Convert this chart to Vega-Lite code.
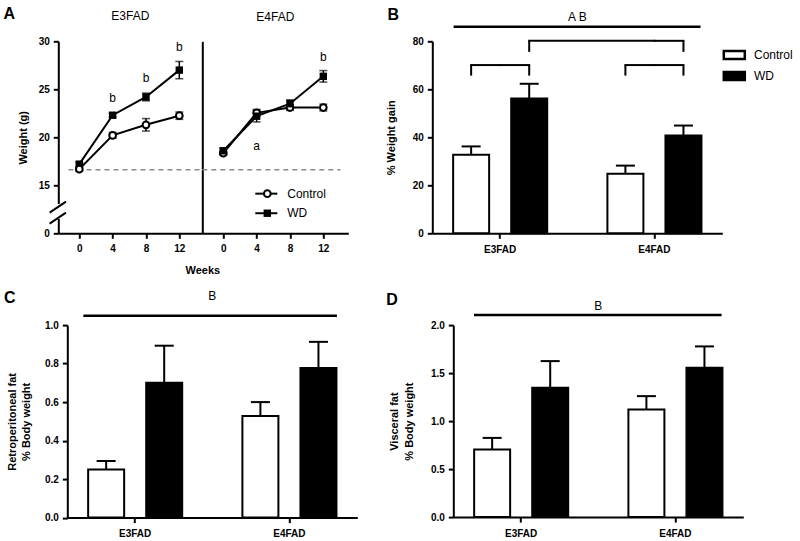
{
  "$schema": "https://vega.github.io/schema/vega-lite/v6.json",
  "background": "white",
  "padding": {"left": 3.3, "top": 5.3, "right": 0, "bottom": 0},
  "spacing": 12.8,
  "config": {
    "font": "Liberation Sans",
    "view": {"stroke": null},
    "axis": {"domainColor": "black", "domainWidth": 2, "tickColor": "black", "tickWidth": 2, "tickSize": 5, "labelFont": "Liberation Sans", "labelFontWeight": "bold", "labelFontSize": 10, "labelColor": "black", "labelPadding": 4, "titleFont": "Liberation Sans", "titleFontWeight": "bold", "titleFontSize": 11, "titleColor": "black", "grid": false},
    "title": {"font": "Liberation Sans", "fontSize": 16, "fontWeight": "bold", "color": "black", "anchor": "start", "frame": "group", "baseline": "alphabetic", "offset": 0},
    "text": {"font": "Liberation Sans", "color": "black"}
  },
  "vconcat": [
    {
      "spacing": 37,
      "hconcat": [
        {
          "bounds": "flush",
          "spacing": 0,
          "title": {"text": "A", "dx": -54.7, "dy": 15.2},
          "hconcat": [
            {
              "width": 144,
              "height": 192,
              "title": {"text": "E3FAD", "anchor": "middle", "fontSize": 12, "fontWeight": "normal", "offset": 12.8},
              "data": {"values": [
                {"week": 0, "diet": "Control", "mean": 16.68, "sem": 0.2},
                {"week": 4, "diet": "Control", "mean": 20.2, "sem": 0.3},
                {"week": 8, "diet": "Control", "mean": 21.3, "sem": 0.65},
                {"week": 12, "diet": "Control", "mean": 22.25, "sem": 0.38},
                {"week": 0, "diet": "WD", "mean": 17.2, "sem": 0.2},
                {"week": 4, "diet": "WD", "mean": 22.3, "sem": 0.2},
                {"week": 8, "diet": "WD", "mean": 24.2, "sem": 0.4},
                {"week": 12, "diet": "WD", "mean": 27.0, "sem": 0.9}
              ]},
              "layer": [
                {"mark": {"type": "line", "color": "black", "strokeWidth": 2}, "encoding": {
                  "x": {"field": "week", "type": "quantitative", "scale": {"domain": [-2.52, 14.76], "nice": false, "zero": false}, "axis": {"values": [0, 4, 8, 12], "title": "Weeks", "titleAnchor": "end", "titleAlign": "center", "labelPadding": 5.5, "titlePadding": 11}},
                  "y": {"field": "mean", "type": "quantitative", "scale": {"domain": [10, 30], "nice": false, "zero": false}, "axis": {"values": [10, 15, 20, 25, 30], "labelExpr": "datum.value == 10 ? '0' : datum.label", "title": "Weight (g)", "titlePadding": 10}},
                  "detail": {"field": "diet"}}},
                {"data": {"values": [{}]}, "mark": {"type": "rule", "strokeDash": [5, 4], "color": "#8a8a8a", "strokeWidth": 1.3}, "encoding": {"x": {"datum": -1.3}, "x2": {"datum": 14.76}, "y": {"datum": 16.62}}},
                {"data": {"values": [{}]}, "mark": {"type": "rect", "fill": "white"}, "encoding": {"x": {"datum": -2.85}, "x2": {"datum": -2.2}, "y": {"datum": 11.5}, "y2": {"datum": 13.05}}},
                {"data": {"values": [{}]}, "mark": {"type": "rule", "color": "black", "strokeWidth": 2}, "encoding": {"x": {"datum": -3.56}, "x2": {"datum": -1.6}, "y": {"datum": 12.15}, "y2": {"datum": 13.3}}},
                {"data": {"values": [{}]}, "mark": {"type": "rule", "color": "black", "strokeWidth": 2}, "encoding": {"x": {"datum": -3.56}, "x2": {"datum": -1.6}, "y": {"datum": 11.0}, "y2": {"datum": 12.15}}},
                {"mark": {"type": "errorbar", "ticks": {"size": 8}, "thickness": 1.5, "color": "black"}, "encoding": {"x": {"field": "week", "type": "quantitative"}, "y": {"field": "mean", "type": "quantitative", "title": "Weight (g)"}, "yError": {"field": "sem"}}},
                {"transform": [{"filter": "datum.diet == 'WD'"}], "mark": {"type": "point", "shape": "square", "filled": true, "color": "black", "size": 55, "opacity": 1}, "encoding": {"x": {"field": "week", "type": "quantitative"}, "y": {"field": "mean", "type": "quantitative"}}},
                {"transform": [{"filter": "datum.diet == 'Control'"}], "mark": {"type": "point", "shape": "circle", "filled": true, "fill": "white", "stroke": "black", "strokeWidth": 2, "size": 45, "opacity": 1}, "encoding": {"x": {"field": "week", "type": "quantitative"}, "y": {"field": "mean", "type": "quantitative"}}},
                {"data": {"values": [{"week": 4, "pos": 23.63, "t": "b"}, {"week": 8, "pos": 25.72, "t": "b"}, {"week": 12, "pos": 29.0, "t": "b"}]}, "mark": {"type": "text", "fontSize": 12, "baseline": "alphabetic", "color": "black"}, "encoding": {"x": {"field": "week", "type": "quantitative"}, "y": {"field": "pos", "type": "quantitative"}, "text": {"field": "t"}}}
              ]
            },
            {
              "width": 146,
              "height": 192,
              "title": {"text": "E4FAD", "anchor": "middle", "fontSize": 12, "fontWeight": "normal", "offset": 16.8},
              "data": {"values": [
                {"week": 0, "diet": "Control", "mean": 18.35, "sem": 0.2},
                {"week": 4, "diet": "Control", "mean": 22.55, "sem": 0.35},
                {"week": 8, "diet": "Control", "mean": 23.1, "sem": 0.3},
                {"week": 12, "diet": "Control", "mean": 23.1, "sem": 0.35},
                {"week": 0, "diet": "WD", "mean": 18.6, "sem": 0.25},
                {"week": 4, "diet": "WD", "mean": 22.2, "sem": 0.6},
                {"week": 8, "diet": "WD", "mean": 23.5, "sem": 0.4},
                {"week": 12, "diet": "WD", "mean": 26.35, "sem": 0.6}
              ]},
              "layer": [
                {"mark": {"type": "line", "color": "black", "strokeWidth": 2}, "encoding": {
                  "x": {"field": "week", "type": "quantitative", "scale": {"domain": [-2.52, 15.0], "nice": false, "zero": false}, "axis": {"values": [0, 4, 8, 12], "title": null, "labelPadding": 5.5}},
                  "y": {"field": "mean", "type": "quantitative", "scale": {"domain": [10, 30], "nice": false, "zero": false}, "axis": {"labels": false, "ticks": false, "title": null}},
                  "detail": {"field": "diet"}}},
                {"data": {"values": [{}]}, "mark": {"type": "rule", "strokeDash": [5, 4], "color": "#8a8a8a", "strokeWidth": 1.3}, "encoding": {"x": {"datum": -2.52}, "x2": {"datum": 14.05}, "y": {"datum": 16.62}}},
                {"mark": {"type": "errorbar", "ticks": {"size": 8}, "thickness": 1.5, "color": "black"}, "encoding": {"x": {"field": "week", "type": "quantitative"}, "y": {"field": "mean", "type": "quantitative", "title": null}, "yError": {"field": "sem"}}},
                {"transform": [{"filter": "datum.diet == 'Control'"}], "mark": {"type": "point", "shape": "circle", "filled": true, "fill": "white", "stroke": "black", "strokeWidth": 2, "size": 45, "opacity": 1}, "encoding": {"x": {"field": "week", "type": "quantitative"}, "y": {"field": "mean", "type": "quantitative"}}},
                {"transform": [{"filter": "datum.diet == 'WD'"}], "mark": {"type": "point", "shape": "square", "filled": true, "color": "black", "size": 55, "opacity": 1}, "encoding": {"x": {"field": "week", "type": "quantitative"}, "y": {"field": "mean", "type": "quantitative"}}},
                {"data": {"values": [{"week": 4, "pos": 18.7, "t": "a"}, {"week": 12, "pos": 27.9, "t": "b"}]}, "mark": {"type": "text", "fontSize": 12, "baseline": "alphabetic", "color": "black"}, "encoding": {"x": {"field": "week", "type": "quantitative"}, "y": {"field": "pos", "type": "quantitative"}, "text": {"field": "t"}}},
                {"data": {"values": [{}]}, "mark": {"type": "rule", "color": "black", "strokeWidth": 2}, "encoding": {"x": {"datum": 3.84}, "x2": {"datum": 6.48}, "y": {"datum": 14.13}}},
                {"data": {"values": [{}]}, "mark": {"type": "point", "shape": "circle", "filled": true, "fill": "white", "stroke": "black", "strokeWidth": 2, "size": 45, "opacity": 1}, "encoding": {"x": {"datum": 5.28}, "y": {"datum": 14.13}}},
                {"data": {"values": [{}]}, "mark": {"type": "text", "text": "Control", "fontSize": 12, "align": "left", "baseline": "middle"}, "encoding": {"x": {"datum": 7.68}, "y": {"datum": 14.13}}},
                {"data": {"values": [{}]}, "mark": {"type": "rule", "color": "black", "strokeWidth": 2}, "encoding": {"x": {"datum": 3.84}, "x2": {"datum": 6.48}, "y": {"datum": 12.09}}},
                {"data": {"values": [{}]}, "mark": {"type": "point", "shape": "square", "filled": true, "color": "black", "size": 55, "opacity": 1}, "encoding": {"x": {"datum": 5.28}, "y": {"datum": 12.09}}},
                {"data": {"values": [{}]}, "mark": {"type": "text", "text": "WD", "fontSize": 12, "align": "left", "baseline": "middle"}, "encoding": {"x": {"datum": 7.68}, "y": {"datum": 12.09}}}
              ]
            }
          ]
        },
        {
          "width": 290,
          "height": 192,
          "title": {"text": "B", "dx": -44.7, "dy": 16.8},
          "data": {"values": [
            {"genotype": "E3FAD", "diet": "Control", "mean": 32.7, "upper": 36.2},
            {"genotype": "E3FAD", "diet": "WD", "mean": 56.2, "upper": 62.3},
            {"genotype": "E4FAD", "diet": "Control", "mean": 24.8, "upper": 28.2},
            {"genotype": "E4FAD", "diet": "WD", "mean": 40.8, "upper": 44.9}
          ]},
          "encoding": {
            "x": {"field": "genotype", "type": "nominal", "scale": {"domain": ["E3FAD", "E4FAD"], "paddingInner": 0.3, "paddingOuter": 0.09}, "axis": {"title": null, "labelAngle": 0, "labelPadding": 6}},
            "xOffset": {"field": "diet", "scale": {"domain": ["Control", "WD"], "paddingInner": 0.38, "paddingOuter": 0.12}},
            "y": {"field": "mean", "type": "quantitative", "scale": {"domain": [0, 80], "nice": false}, "axis": {"values": [0, 20, 40, 60, 80], "title": "% Weight gain", "titlePadding": 15.8}}
          },
          "layer": [
            {"mark": {"type": "rule", "color": "black", "strokeWidth": 2}, "encoding": {"y2": {"field": "upper"}}},
            {"mark": {"type": "tick", "color": "black", "size": 19, "thickness": 2, "opacity": 1}, "encoding": {"y": {"field": "upper", "type": "quantitative"}}},
            {"mark": {"type": "bar", "stroke": "black", "strokeWidth": 2}, "encoding": {"fill": {"field": "diet", "type": "nominal", "scale": {"domain": ["Control", "WD"], "range": ["white", "black"]}, "legend": {"title": null, "orient": "none", "legendX": 664, "legendY": 1.6, "padding": 0, "symbolType": "M-1,-0.38H1V0.38H-1Z", "symbolSize": 441, "symbolStrokeColor": "black", "symbolStrokeWidth": 2.5, "labelFontSize": 12, "labelFont": "Liberation Sans", "labelColor": "black", "labelOffset": 7.7, "rowPadding": 0}}}},
            {"data": {"values": [
              {"genotype": "E3FAD", "diet": "Control", "genotype2": "E3FAD", "v": 70.1},
              {"genotype": "E3FAD", "diet": "WD", "genotype2": "E3FAD", "v": 70.1},
              {"genotype": "E3FAD", "diet": "WD", "genotype2": "E4FAD", "v": 80.2},
              {"genotype": "E4FAD", "diet": "WD", "genotype2": "E4FAD", "v": 80.2},
              {"genotype": "E4FAD", "diet": "Control", "genotype2": "E4FAD", "v": 70.1},
              {"genotype": "E4FAD", "diet": "WD", "genotype2": "E4FAD", "v": 70.1}
            ]}, "mark": {"type": "rule", "color": "black", "strokeWidth": 2, "strokeCap": "square"}, "encoding": {"x2": {"field": "genotype2"}, "y": {"field": "v", "type": "quantitative"}}},
            {"data": {"values": [
              {"genotype": "E3FAD", "diet": "Control", "top": 70.1, "bot": 65.7},
              {"genotype": "E3FAD", "diet": "WD", "top": 70.1, "bot": 65.7},
              {"genotype": "E3FAD", "diet": "WD", "top": 80.2, "bot": 75.6},
              {"genotype": "E4FAD", "diet": "WD", "top": 80.2, "bot": 75.6},
              {"genotype": "E4FAD", "diet": "Control", "top": 70.1, "bot": 65.7},
              {"genotype": "E4FAD", "diet": "WD", "top": 70.1, "bot": 65.7}
            ]}, "mark": {"type": "rule", "color": "black", "strokeWidth": 2}, "encoding": {"y": {"field": "top", "type": "quantitative"}, "y2": {"field": "bot"}}},
            {"data": {"values": [{"genotype": "E3FAD", "genotype2": "E4FAD", "v": 86.1}]}, "mark": {"type": "rule", "color": "black", "strokeWidth": 2.5}, "encoding": {"x": {"field": "genotype", "type": "nominal", "bandPosition": 0.069}, "xOffset": null, "x2": {"field": "genotype2", "bandPosition": 0.927}, "y": {"field": "v", "type": "quantitative"}}},
            {"data": {"values": [{"t": "A B", "v": 88.6}]}, "mark": {"type": "text", "fontSize": 12, "baseline": "alphabetic"}, "encoding": {"x": null, "xOffset": null, "y": {"field": "v", "type": "quantitative"}, "text": {"field": "t"}}}
          ]
        }
      ]
    },
    {
      "bounds": "flush",
      "spacing": 0,
      "hconcat": [
        {"width": 8.7, "height": 192, "data": {"values": []}, "mark": "point"},
        {
          "width": 290,
          "height": 192.5,
          "title": {"text": "C", "dx": -63.4, "dy": 19.5},
          "data": {"values": [
            {"genotype": "E3FAD", "diet": "Control", "mean": 0.25, "upper": 0.294},
            {"genotype": "E3FAD", "diet": "WD", "mean": 0.701, "upper": 0.893},
            {"genotype": "E4FAD", "diet": "Control", "mean": 0.528, "upper": 0.6},
            {"genotype": "E4FAD", "diet": "WD", "mean": 0.777, "upper": 0.913}
          ]},
          "encoding": {
            "x": {"field": "genotype", "type": "nominal", "scale": {"domain": ["E3FAD", "E4FAD"], "paddingInner": 0.3, "paddingOuter": 0.09}, "axis": {"title": null, "labelAngle": 0, "labelPadding": 6}},
            "xOffset": {"field": "diet", "scale": {"domain": ["Control", "WD"], "paddingInner": 0.38, "paddingOuter": 0.12}},
            "y": {"field": "mean", "type": "quantitative", "scale": {"domain": [0, 1], "nice": false}, "axis": {"values": [0, 0.2, 0.4, 0.6, 0.8, 1.0], "format": ".1f", "title": ["Retroperitoneal fat", "% Body weight"], "titleLineHeight": 14, "titlePadding": 12.5}}
          },
          "layer": [
            {"mark": {"type": "rule", "color": "black", "strokeWidth": 2}, "encoding": {"y2": {"field": "upper"}}},
            {"mark": {"type": "tick", "color": "black", "size": 19, "thickness": 2, "opacity": 1}, "encoding": {"y": {"field": "upper", "type": "quantitative"}}},
            {"mark": {"type": "bar", "stroke": "black", "strokeWidth": 2}, "encoding": {"fill": {"field": "diet", "type": "nominal", "scale": {"domain": ["Control", "WD"], "range": ["white", "black"]}, "legend": null}}},
            {"data": {"values": [{"genotype": "E3FAD", "genotype2": "E4FAD", "v": 1.048}]}, "mark": {"type": "rule", "color": "black", "strokeWidth": 2.5}, "encoding": {"x": {"field": "genotype", "type": "nominal", "bandPosition": 0.02}, "xOffset": null, "x2": {"field": "genotype2", "bandPosition": 0.94}, "y": {"field": "v", "type": "quantitative"}}},
            {"data": {"values": [{"t": "B", "v": 1.128}]}, "mark": {"type": "text", "fontSize": 12, "baseline": "alphabetic"}, "encoding": {"x": null, "xOffset": null, "y": {"field": "v", "type": "quantitative"}, "text": {"field": "t"}}}
          ]
        },
        {"width": 95.3, "height": 192, "data": {"values": []}, "mark": "point"},
        {
          "width": 290,
          "height": 192,
          "title": {"text": "D", "dx": -67, "dy": 12.3},
          "data": {"values": [
            {"genotype": "E3FAD", "diet": "Control", "mean": 0.704, "upper": 0.825},
            {"genotype": "E3FAD", "diet": "WD", "mean": 1.347, "upper": 1.625},
            {"genotype": "E4FAD", "diet": "Control", "mean": 1.121, "upper": 1.26},
            {"genotype": "E4FAD", "diet": "WD", "mean": 1.556, "upper": 1.778}
          ]},
          "encoding": {
            "x": {"field": "genotype", "type": "nominal", "scale": {"domain": ["E3FAD", "E4FAD"], "paddingInner": 0.3, "paddingOuter": 0.09}, "axis": {"title": null, "labelAngle": 0, "labelPadding": 6}},
            "xOffset": {"field": "diet", "scale": {"domain": ["Control", "WD"], "paddingInner": 0.38, "paddingOuter": 0.12}},
            "y": {"field": "mean", "type": "quantitative", "scale": {"domain": [0, 2], "nice": false}, "axis": {"values": [0, 0.5, 1.0, 1.5, 2.0], "format": ".1f", "title": ["Visceral fat", "% Body weight"], "titleLineHeight": 15, "titlePadding": 16}}
          },
          "layer": [
            {"mark": {"type": "rule", "color": "black", "strokeWidth": 2}, "encoding": {"y2": {"field": "upper"}}},
            {"mark": {"type": "tick", "color": "black", "size": 19, "thickness": 2, "opacity": 1}, "encoding": {"y": {"field": "upper", "type": "quantitative"}}},
            {"mark": {"type": "bar", "stroke": "black", "strokeWidth": 2}, "encoding": {"fill": {"field": "diet", "type": "nominal", "scale": {"domain": ["Control", "WD"], "range": ["white", "black"]}, "legend": null}}},
            {"data": {"values": [{"genotype": "E3FAD", "genotype2": "E4FAD", "v": 2.105}]}, "mark": {"type": "rule", "color": "black", "strokeWidth": 2.5}, "encoding": {"x": {"field": "genotype", "type": "nominal", "bandPosition": 0.063}, "xOffset": null, "x2": {"field": "genotype2", "bandPosition": 0.928}, "y": {"field": "v", "type": "quantitative"}}},
            {"data": {"values": [{"t": "B", "v": 2.16}]}, "mark": {"type": "text", "fontSize": 12, "baseline": "alphabetic"}, "encoding": {"x": null, "xOffset": null, "y": {"field": "v", "type": "quantitative"}, "text": {"field": "t"}}}
          ]
        }
      ]
    }
  ]
}
